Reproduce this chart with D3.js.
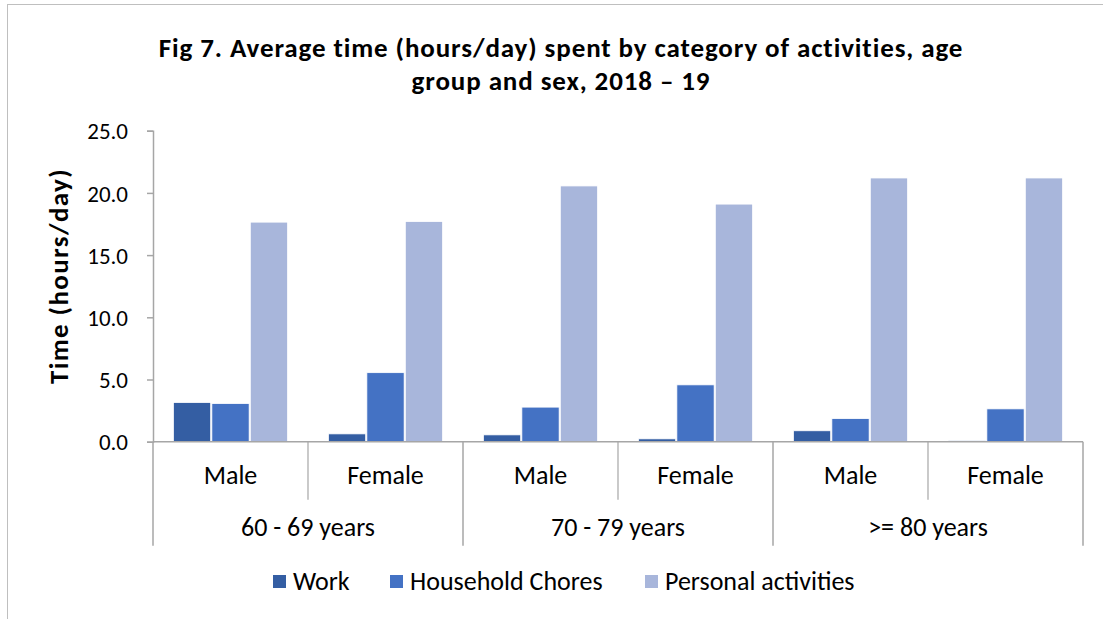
<!DOCTYPE html>
<html>
<head>
<meta charset="utf-8">
<script src="https://cdn.jsdelivr.net/npm/d3@7"></script>
<style>
  html, body { margin: 0; padding: 0; background: #fff; }
  svg { display: block; }
  text { font-family: Carlito, Lato, "Open Sans", sans-serif; fill: #000; }
</style>
</head>
<body>
<svg id="chart" width="1103" height="619"></svg>
<script>
// ---- data ----
const ageGroups = ["60 - 69 years", "70 - 79 years", ">= 80 years"];
const sexes = ["Male", "Female"];
const seriesNames = ["Work", "Household Chores", "Personal activities"];
const workValues = [3.15, 0.63, 0.55, 0.23, 0.88, 0.08];
const choresValues = [3.07, 5.55, 2.78, 4.57, 1.86, 2.64];
const personalValues = [17.65, 17.7, 20.56, 19.1, 21.2, 21.2];
const yTicks = [0, 5, 10, 15, 20, 25];
const titleLines = ["Fig 7. Average time (hours/day) spent by category of activities, age", "group and sex, 2018 – 19"];
const yLabel = "Time (hours/day)";

const colors = ["#345ea3", "#4472c4", "#a8b6db"];
const seriesValues = [workValues, choresValues, personalValues];

const svg = d3.select("#chart");
const W = 1103, H = 619;
const m = { left: 153, right: 1083, top: 130.7, bottom: 441.7 };

// chart border
svg.append("rect").attr("x", 7.5).attr("y", 4.5).attr("width", W).attr("height", H)
  .attr("fill", "none").attr("stroke", "#bfbfbf").attr("stroke-width", 1);

// slots
const slots = [];
ageGroups.forEach((g, gi) => sexes.forEach((s, si) => slots.push({ g, gi, s, si, key: gi + "-" + si })));

const x0 = d3.scaleBand().domain(slots.map(d => d.key)).range([m.left, m.right]).paddingInner(0).paddingOuter(0);
const xAge = d3.scaleBand().domain(ageGroups).range([m.left, m.right]);
const x1 = d3.scaleBand().domain(seriesNames).range([0, x0.bandwidth()]).paddingInner(0.03).paddingOuter(0.53);
const y = d3.scaleLinear().domain([0, 25]).range([m.bottom, m.top]);

// y axis
const yAxis = d3.axisLeft(y).tickValues(yTicks).tickFormat(d3.format(".1f")).tickSizeOuter(0).tickSize(6).tickPadding(19);
const gy = svg.append("g").attr("transform", `translate(${m.left},0)`).call(yAxis);
gy.select(".domain").attr("stroke", "#a6a6a6").attr("stroke-width", 1.5);
gy.selectAll(".tick line").attr("stroke", "#a6a6a6").attr("stroke-width", 1.5);
gy.selectAll(".tick text").style("font-size", "23px").attr("dy", "0.36em")
  .style("font-family", "Carlito, Lato, sans-serif").attr("fill", "#000");

// bars
const barG = svg.append("g");
slots.forEach((sl, i) => {
  seriesNames.forEach((sn, k) => {
    const v = seriesValues[k][i];
    barG.append("rect")
      .attr("x", x0(sl.key) + x1(sn))
      .attr("y", y(v))
      .attr("width", x1.bandwidth())
      .attr("height", y(0) - y(v))
      .attr("fill", colors[k])
      .attr("stroke", "#ffffff")
      .attr("stroke-width", 0.8);
  });
});

// category axis table
const axisColor = "#a6a6a6";
const tab = svg.append("g");
tab.append("line").attr("x1", m.left).attr("x2", m.right).attr("y1", y(0)).attr("y2", y(0))
  .attr("stroke", axisColor).attr("stroke-width", 1.5);
slots.forEach(sl => {
  if (sl.si === 1) {
    const xx = x0(sl.key);
    tab.append("line").attr("x1", xx).attr("x2", xx).attr("y1", y(0)).attr("y2", y(0) + 58)
      .attr("stroke", axisColor).attr("stroke-width", 1.2);
  }
});
ageGroups.concat(["end"]).forEach((g, i) => {
  const xx = i < ageGroups.length ? xAge(g) : m.right;
  tab.append("line").attr("x1", xx).attr("x2", xx).attr("y1", y(0)).attr("y2", y(0) + 104)
    .attr("stroke", axisColor).attr("stroke-width", 1.5);
});
slots.forEach(sl => {
  tab.append("text").attr("x", x0(sl.key) + x0.bandwidth() / 2).attr("y", y(0) + 42)
    .attr("text-anchor", "middle").style("font-size", "26px").text(sl.s);
});
ageGroups.forEach(g => {
  tab.append("text").attr("x", xAge(g) + xAge.bandwidth() / 2).attr("y", y(0) + 94)
    .attr("text-anchor", "middle").style("font-size", "26px").text(g);
});

// y label
svg.append("text").attr("transform", `translate(68,276) rotate(-90)`)
  .attr("text-anchor", "middle").style("font-size", "27px").style("font-weight", "bold")
  .style("letter-spacing", "1.4px").text(yLabel);

// title
titleLines.forEach((t, i) => {
  svg.append("text").attr("x", 561).attr("y", 57 + i * 33).attr("text-anchor", "middle")
    .style("font-size", "27px").style("font-weight", "bold").style("letter-spacing", "0.9px").text(t);
});

// legend
const legendX = [273, 390, 645];
const lg = svg.append("g");
seriesNames.forEach((sn, k) => {
  lg.append("rect").attr("x", legendX[k]).attr("y", 575).attr("width", 13).attr("height", 13).attr("fill", colors[k]);
  lg.append("text").attr("x", legendX[k] + 20).attr("y", 590).style("font-size", "26px").text(sn);
});
</script>
</body>
</html>
